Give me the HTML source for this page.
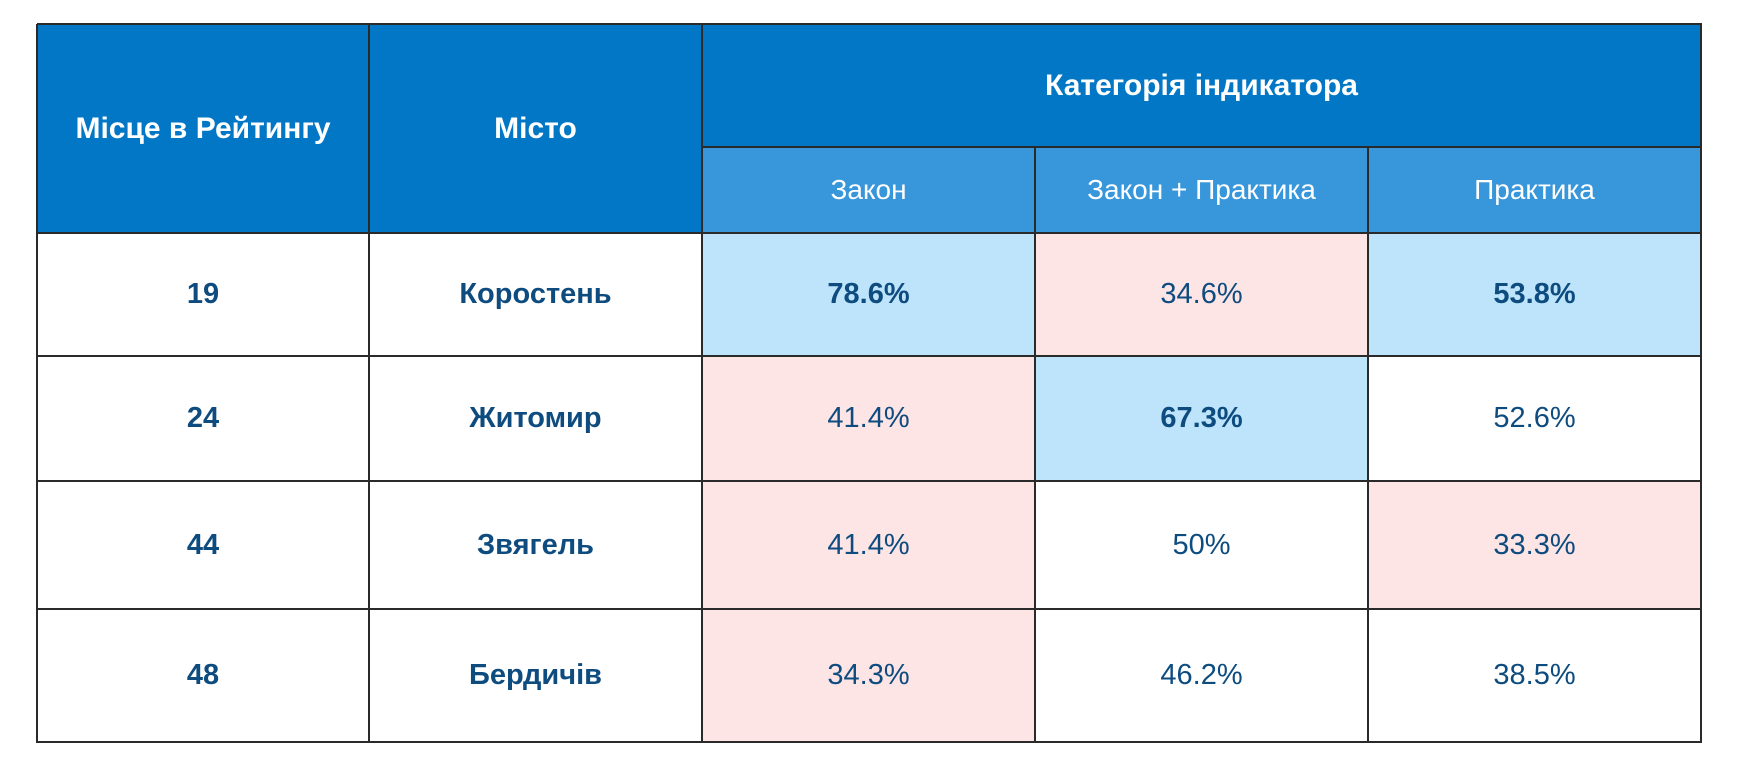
<!DOCTYPE html>
<html><head><meta charset="utf-8">
<style>
html,body{margin:0;padding:0;background:#fff;}
body{width:1743px;height:766px;position:relative;overflow:hidden;font-family:"Liberation Sans","DejaVu Sans",sans-serif;}
.c{position:absolute;box-sizing:border-box;display:flex;align-items:center;justify-content:center;text-align:center;}
.h{background:#0277c6;color:#fff;font-weight:bold;font-size:30px;}
.s{background:#3896da;color:#fff;font-size:28px;}
.d{color:#0e4c7f;font-size:29px;}
.line{position:absolute;background:#2a2a2a;}
</style></head>
<body>
<div id="tbl"></div>
<script>
const ranks = ["19","24","44","48"];
const cities = ["Коростень","Житомир","Звягель","Бердичів"];
const categories = ["Закон","Закон + Практика","Практика"];
const zakon = [78.6, 41.4, 41.4, 34.3];
const zakonPraktyka = [34.6, 67.3, 50, 46.2];
const praktyka = [53.8, 52.6, 33.3, 38.5];
// cell highlight: "b" = best (blue, bold), "p" = weak (pink), "" = none
const hlZakon = ["b","p","p","p"];
const hlZP = ["p","b","",""];
const hlPr = ["b","","p",""];

const root = document.getElementById('tbl');
const colX = [37, 369, 702, 1035, 1368, 1701];
const rowY = [24, 147, 233, 356, 481, 609, 742];
function cell(x1,y1,x2,y2,cls,text,name,bold,bg){
  const d=document.createElement('div');
  d.className='c '+cls;
  d.style.left=x1+'px';d.style.top=y1+'px';d.style.width=(x2-x1)+'px';d.style.height=(y2-y1)+'px';
  if(bg) d.style.background=bg;
  if(bold) d.style.fontWeight='bold';
  d.textContent=text;
  
  
  root.appendChild(d);
}
cell(colX[0],rowY[0],colX[1],rowY[2],'h','Місце в Рейтингу','header-rank',false,null);
cell(colX[1],rowY[0],colX[2],rowY[2],'h','Місто','header-city',false,null);
cell(colX[2],rowY[0],colX[5],rowY[1],'h','Категорія індикатора','header-category',false,null);
categories.forEach((c,i)=>cell(colX[2+i],rowY[1],colX[3+i],rowY[2],'s',c,'subheader-'+(i+1),false,null));
const series=[zakon,zakonPraktyka,praktyka];
const hls=[hlZakon,hlZP,hlPr];
const fmt=v=>(Number.isInteger(v)?String(v):v.toFixed(1))+'%';
ranks.forEach((r,i)=>{
  const y1=rowY[2+i],y2=rowY[3+i];
  cell(colX[0],y1,colX[1],y2,'d',r,'rank-cell',true,'#fff');
  cell(colX[1],y1,colX[2],y2,'d',cities[i],'city-cell',true,'#fff');
  series.forEach((s,j)=>{
    const h=hls[j][i];
    const bg=h==='b'?'#bde4fb':(h==='p'?'#fde4e5':'#fff');
    cell(colX[2+j],y1,colX[3+j],y2,'d',fmt(s[i]),'value-cell',h==='b',bg);
  });
});
// grid lines
colX.forEach((x,i)=>{
  const l=document.createElement('div');l.className='line';
  const top=(i>2&&i<5)?rowY[1]:rowY[0];
  l.style.left=(x-1)+'px';l.style.top=top+'px';l.style.width='2px';l.style.height=(rowY[6]-top+1)+'px';
  
  
  root.appendChild(l);
});
rowY.forEach((y,i)=>{
  const l=document.createElement('div');l.className='line';
  const left=i===1?colX[2]:colX[0];
  l.style.left=left+'px';l.style.top=(y-1)+'px';l.style.height='2px';l.style.width=(colX[5]-left+1)+'px';
  
  
  root.appendChild(l);
});
</script>
</body></html>
